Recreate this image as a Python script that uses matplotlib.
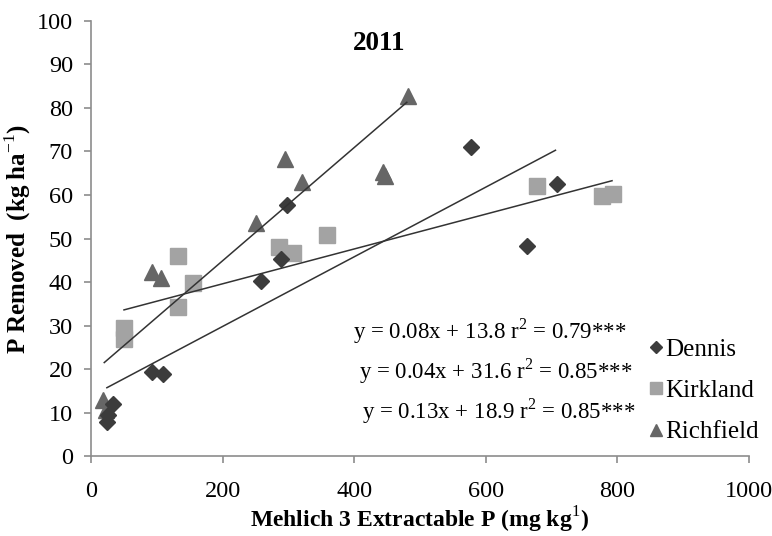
import numpy as np
import matplotlib.pyplot as plt

plt.rcParams['font.family'] = 'Liberation Serif'
plt.rcParams['mathtext.fontset'] = 'custom'
plt.rcParams['mathtext.rm'] = 'Liberation Serif'
plt.rcParams['mathtext.bf'] = 'Liberation Serif:bold'

# Dennis
dennis_x = [24, 25, 34, 92, 110, 258, 289, 298, 577, 662, 708]
dennis_y = [7.8, 9.5, 12.0, 19.3, 18.8, 40.2, 45.2, 57.8, 71.0, 48.3, 62.5]
# Kirkland
kirk_x = [50, 50, 132, 132, 155, 285, 307, 358, 678, 777, 794]
kirk_y = [27.0, 29.5, 46.0, 34.3, 39.8, 48.0, 46.7, 50.8, 62.1, 59.7, 60.3]
# Richfield
rich_x = [18, 22, 92, 107, 251, 295, 320, 444, 447, 482]
rich_y = [13.0, 10.5, 42.3, 40.9, 53.6, 68.3, 62.9, 65.3, 64.3, 82.7]

# fitted lines (slope, intercept, x range) and labels
dennis_fit = (0.08, 13.8, 24, 706)
kirk_fit = (0.04, 31.6, 50, 792)
rich_fit = (0.13, 18.9, 20, 480)
eq_labels = ["y = 0.08x + 13.8 r$^{2}$ = 0.79***",
             "y = 0.04x + 31.6 r$^{2}$ = 0.85***",
             "y = 0.13x + 18.9 r$^{2}$ = 0.85***"]

fig = plt.figure(figsize=(7.72, 5.36), dpi=100)
ax = fig.add_axes([0.118, 0.149, 0.852, 0.812])

ax.plot(rich_x, rich_y, '^', color='#666666', ms=11, label='Richfield', zorder=3)
ax.plot(kirk_x, kirk_y, 's', color='#a3a3a3', ms=11, label='Kirkland', zorder=3)
ax.plot(dennis_x, dennis_y, 'D', color='#3c3c3c', ms=8, label='Dennis', zorder=4)

for slope, icpt, x0, x1 in [dennis_fit, kirk_fit, rich_fit]:
    xs = np.array([x0, x1])
    ax.plot(xs, slope * xs + icpt, color='#333333', lw=1.1, zorder=5)

ax.set_xlim(0, 1000)
ax.set_ylim(0, 100)
ax.set_xticks(range(0, 1001, 200))
ax.set_yticks(range(0, 101, 10))
for s in ['top', 'right']:
    ax.spines[s].set_visible(False)
for s in ['left', 'bottom']:
    ax.spines[s].set_color('#8c8c8c')
    ax.spines[s].set_linewidth(1.2)
ax.tick_params(axis='both', direction='out', length=5, color='#8c8c8c',
               labelsize=17.5, width=1.2)
ax.tick_params(axis='x', pad=13)
ax.tick_params(axis='y', pad=8)

ax.set_xlabel("Mehlich 3 Extractable P (mg kg$^{1}$)", fontsize=17,
              fontweight='bold', va='center')
ax.xaxis.set_label_coords(0.5, -0.146)
ax.set_ylabel("P Removed  (kg ha$^{-1}$)", fontsize=18, fontweight='bold',
              va='center')
ax.yaxis.set_label_coords(-0.111, 0.5)
ax.text(0.438, 0.948, "2011", transform=ax.transAxes, fontsize=19.5,
        fontweight='bold', ha='center', va='center')

eq_pos = [(0.398, 0.287), (0.408, 0.196), (0.412, 0.104)]
for (ex, ey), lab in zip(eq_pos, eq_labels):
    ax.text(ex, ey, lab, transform=ax.transAxes, fontsize=16.5, va='center')

h, l = ax.get_legend_handles_labels()
leg = ax.legend(h[::-1], l[::-1], loc='lower left', bbox_to_anchor=(0.825, -0.005),
                frameon=False, fontsize=18, markerscale=0.8, handlelength=0.55,
                handletextpad=0.1, labelspacing=0.75, borderaxespad=0.2)

fig.savefig("out.png", dpi=100)
